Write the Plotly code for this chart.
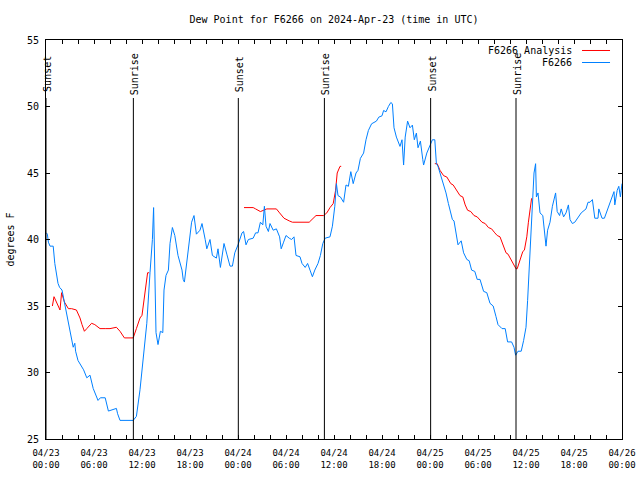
import plotly.graph_objects as go

# ---- data (hours after 2024-04-23 00:00 UTC) ----
obs_hours = [0.05, 0.17, 0.3, 0.5, 0.9, 1.1, 1.5, 1.7, 2.0, 2.4, 3.0, 3.4, 3.6, 3.7, 4.0, 4.7, 5.1, 5.5, 5.9,
             6.5, 6.8, 7.4, 7.8, 8.8, 8.95, 9.25, 10.9, 11.3, 11.75, 12.2, 12.6, 13.0, 13.3, 13.45, 13.55,
             13.75, 14.0, 14.3, 14.6, 14.75, 15.0, 15.3, 15.5, 15.8, 16.1, 16.5, 17.0, 17.15, 17.3, 17.7,
             17.9, 18.2, 18.5, 18.8, 19.25, 19.5, 19.9, 20.1, 20.5, 20.8, 21.3, 21.5, 21.8, 22.25, 22.6,
             23.0, 23.3, 23.6, 24.0, 24.5, 24.7, 25.0, 25.3, 25.9, 26.2, 26.5, 26.8, 27.1, 27.3, 27.5,
             27.8, 28.0, 28.4, 28.8, 29.2, 29.4, 29.7, 30.0, 30.4, 30.7, 31.0, 31.25, 31.75, 32.0, 32.4,
             32.7, 33.0, 33.3, 33.6, 34.0, 34.3, 34.6, 34.9, 35.5, 35.8, 36.1, 36.3, 36.5, 36.8, 37.2,
             37.5, 37.8, 38.1, 38.4, 38.75, 39.0, 39.3, 39.7, 40.0, 40.3, 40.7, 41.3, 41.6, 42.0, 42.2,
             42.5, 42.8, 43.1, 43.3, 43.5, 43.8, 44.25, 44.5, 44.7, 44.9, 45.2, 45.5, 45.8, 46.04, 46.3,
             46.5, 46.8, 47.1, 47.2, 47.6, 48.0, 48.3, 48.6, 48.8, 49.0, 49.4, 49.7, 50.0, 50.3, 50.6,
             50.8, 51.0, 51.25, 51.5, 51.9, 52.2, 52.6, 52.9, 53.2, 53.6, 53.9, 54.25, 54.7, 55.1, 55.5,
             55.9, 56.25, 56.5, 57.0, 57.4, 57.7, 58.2, 58.5, 58.7, 59.0, 59.4, 59.7, 60.0, 60.2, 60.4,
             60.6, 60.8, 61.0, 61.2, 61.3, 61.5, 61.75, 62.1, 62.25, 62.5, 62.7, 63.0, 63.3, 63.7, 63.9,
             64.2, 64.4, 64.7, 65.0, 65.3, 65.5, 65.8, 66.1, 66.4, 66.9, 67.5, 67.75, 68.0, 68.3, 68.6,
             69.0, 69.1, 69.5, 69.8, 70.1, 70.4, 70.7, 71.0, 71.1, 71.4, 71.6, 71.8, 71.9, 72.0]
obs_dewpoint = [40.5, 40.4, 39.8, 39.5, 39.5, 38.2, 36.7, 36.4, 36.2, 35.0, 33.2, 31.9, 32.2, 31.6, 30.9, 30.2,
                29.6, 29.8, 28.8, 27.9, 28.1, 28.1, 27.1, 27.3, 26.9, 26.4, 26.4, 26.7, 28.7, 31.2, 33.7,
                37.5, 40.0, 42.4, 40.0, 33.0, 32.1, 33.1, 33.0, 36.2, 37.3, 37.7, 39.7, 40.9, 40.3, 38.8,
                37.7, 37.0, 36.8, 38.8, 40.2, 41.3, 41.8, 40.4, 40.7, 41.2, 40.0, 39.3, 40.0, 38.8, 38.6,
                39.3, 37.9, 39.7, 38.9, 38.0, 38.0, 39.0, 39.6, 40.5, 40.6, 39.6, 40.0, 40.1, 40.5, 40.5,
                41.3, 41.1, 42.5, 41.0, 40.6, 41.2, 40.7, 40.8, 40.2, 39.3, 39.8, 40.3, 40.1, 40.0, 40.2,
                38.8, 38.7, 38.2, 37.9, 38.2, 37.7, 37.2, 37.7, 38.2, 38.8, 39.7, 40.1, 40.2, 41.0, 42.5,
                44.2, 43.3, 43.2, 42.8, 44.1, 44.0, 45.1, 44.2, 45.0, 45.2, 46.1, 46.5, 47.5, 48.2, 48.7,
                48.9, 49.2, 49.3, 49.7, 49.6, 50.0, 50.3, 50.2, 48.4, 47.7, 47.0, 47.5, 45.6, 47.7, 48.9,
                48.4, 48.6, 47.5, 48.0, 46.9, 47.4, 46.0, 45.6, 46.5, 47.1, 47.5, 47.5, 45.7, 45.5, 44.7,
                44.0, 43.5, 42.7, 42.0, 41.5, 41.4, 40.5, 39.6, 39.9, 39.0, 38.5, 38.4, 37.7, 37.6, 37.0,
                37.0, 36.1, 36.0, 35.2, 35.0, 34.2, 33.6, 33.3, 33.3, 32.3, 32.3, 31.9, 31.3, 31.6, 31.6,
                32.4, 33.4, 35.4, 38.0, 40.5, 43.2, 45.0, 45.7, 43.2, 43.5, 42.0, 41.8, 41.0, 39.5, 40.7,
                41.3, 42.5, 43.5, 42.1, 41.8, 42.3, 41.7, 42.0, 42.6, 41.5, 41.2, 41.3, 41.6, 42.0, 42.3,
                42.8, 42.8, 43.0, 41.6, 41.6, 42.3, 41.6, 41.6, 42.1, 42.7, 43.2, 43.6, 42.6, 43.7, 44.0,
                43.2, 43.7, 44.2]

ana_hours = [0.8, 1.0, 1.3, 1.75, 1.95, 2.3, 2.8, 3.2, 3.8, 4.25, 4.5, 4.8, 5.1, 5.7, 6.1, 6.75, 7.4, 8.0,
             8.8, 9.25, 9.8, 10.9, 11.3, 11.75, 12.0, 12.2, 12.4, 12.6, 12.7, 12.9, None,
             24.75, 25.9, 26.2, 26.8, 27.6, 28.8, 29.2, 29.75, 30.4, 30.8, 32.9, 33.4, 33.75, 34.7, 35.1,
             35.5, 35.9, 36.2, 36.4, 36.75, 36.9, None,
             48.6, 48.9, 49.25, 49.7, 50.1, 50.6, 50.9, 51.3, 51.75, 52.1, 52.4, 52.7, 53.1, 53.5, 53.9,
             54.5, 54.9, 55.3, 55.7, 56.1, 56.4, 56.75, 57.1, 57.5, 57.75, 58.1, 58.4, 58.75, 58.9, 59.25,
             59.6, 59.8, 60.1, 60.3, 60.5, 60.7]
ana_dewpoint = [35.0, 35.7, 35.3, 34.7, 36.0, 35.3, 34.8, 34.8, 34.7, 34.1, 33.6, 33.1, 33.3, 33.7, 33.6, 33.3,
                33.3, 33.3, 33.4, 33.1, 32.6, 32.6, 33.3, 34.1, 34.3, 35.2, 36.1, 37.0, 37.5, 37.5, None,
                42.4, 42.4, 42.3, 42.1, 42.3, 42.3, 42.0, 41.6, 41.4, 41.3, 41.3, 41.6, 41.8, 41.8, 42.0,
                42.4, 42.7, 43.7, 45.0, 45.5, 45.5, None,
                45.7, 45.7, 45.2, 44.8, 44.7, 44.2, 44.1, 43.7, 43.3, 43.2, 42.6, 42.2, 42.1, 41.8, 41.7,
                41.3, 41.2, 40.9, 40.8, 40.5, 40.3, 40.2, 39.7, 39.0, 38.9, 38.5, 38.2, 37.8, 37.8, 38.5,
                39.1, 39.2, 40.2, 41.3, 42.2, 43.1]

event_hours = [0.0, 10.92, 24.04, 34.8, 48.08, 58.75]
event_labels = ["Sunset", "Sunrise", "Sunset", "Sunrise", "Sunset", "Sunrise"]

tick_hours = [0, 6, 12, 18, 24, 30, 36, 42, 48, 54, 60, 66, 72]
tick_labels = ["04/23<br>00:00", "04/23<br>06:00", "04/23<br>12:00", "04/23<br>18:00",
               "04/24<br>00:00", "04/24<br>06:00", "04/24<br>12:00", "04/24<br>18:00",
               "04/25<br>00:00", "04/25<br>06:00", "04/25<br>12:00", "04/25<br>18:00",
               "04/26<br>00:00"]
minor_tick_hours = [2, 4, 8, 10, 14, 16, 20, 22, 26, 28, 32, 34, 38, 40, 44, 46, 50, 52, 56, 58, 62, 64, 68, 70]
y_ticks = [25, 30, 35, 40, 45, 50, 55]

series_names = ["F6266 Analysis", "F6266"]
RED = "#ff0000"
BLUE = "#0080ff"
FONT = "DejaVu Sans Mono"

fig = go.Figure()
fig.add_trace(go.Scatter(x=ana_hours, y=ana_dewpoint, mode="lines", name=series_names[0],
                         line=dict(color=RED, width=1), connectgaps=False, showlegend=False))
fig.add_trace(go.Scatter(x=obs_hours, y=obs_dewpoint, mode="lines", name=series_names[1],
                         line=dict(color=BLUE, width=1), showlegend=False))

for h, lab in zip(event_hours, event_labels):
    fig.add_shape(type="line", xref="x", yref="y", x0=h, x1=h, y0=25, y1=50.64,
                  line=dict(color="black", width=1))
    fig.add_annotation(x=h, xref="x", y=0.915, yref="paper", text=lab, textangle=-90,
                       showarrow=False, xshift=2, font=dict(family=FONT, size=10, color="black"),
                       xanchor="center", yanchor="middle")

# manual gnuplot-style key
key_y = [0.9737, 0.9436]
for name, col, ky in zip(series_names, [RED, BLUE], key_y):
    fig.add_annotation(x=0.9167, xref="paper", y=ky, yref="paper", text=name, showarrow=False,
                       xanchor="right", yanchor="middle", font=dict(family=FONT, size=10, color="black"))
    fig.add_shape(type="line", xref="paper", yref="paper", x0=0.9306, x1=0.9792, y0=ky, y1=ky,
                  line=dict(color=col, width=1))

fig.update_layout(
    width=640, height=480,
    margin=dict(l=46, r=18, t=40, b=41),
    paper_bgcolor="white", plot_bgcolor="white",
    font=dict(family=FONT, size=10, color="black"),
    title=dict(text="Dew Point for F6266 on 2024-Apr-23 (time in UTC)", x=0.5, xref="paper",
               y=1 - 19 / 480, yref="container", yanchor="middle", xanchor="center", automargin=False,
               font=dict(family=FONT, size=10, color="black")),
    showlegend=False,
)
fig.update_xaxes(range=[0, 72], showgrid=False, zeroline=False, showline=True, linecolor="black",
                 linewidth=1, mirror="ticks", ticks="inside", ticklen=4, tickcolor="black",
                 automargin=False, ticklabelstandoff=5,
                 tickvals=tick_hours, ticktext=tick_labels, tickfont=dict(family=FONT, size=9),
                 minor=dict(tickvals=minor_tick_hours, ticks="inside", ticklen=4, tickcolor="black"))
fig.update_yaxes(range=[25, 55], showgrid=False, zeroline=False, showline=True, linecolor="black",
                 linewidth=1, mirror="ticks", ticks="inside", ticklen=4, tickcolor="black",
                 automargin=False, ticklabelstandoff=4,
                 tickvals=y_ticks, tickfont=dict(family=FONT, size=10),
                 title=dict(text="degrees F", standoff=10, font=dict(family=FONT, size=10)))

fig.write_html("out.html", config={"displayModeBar": False},
               post_script="document.body.style.margin='0';")
